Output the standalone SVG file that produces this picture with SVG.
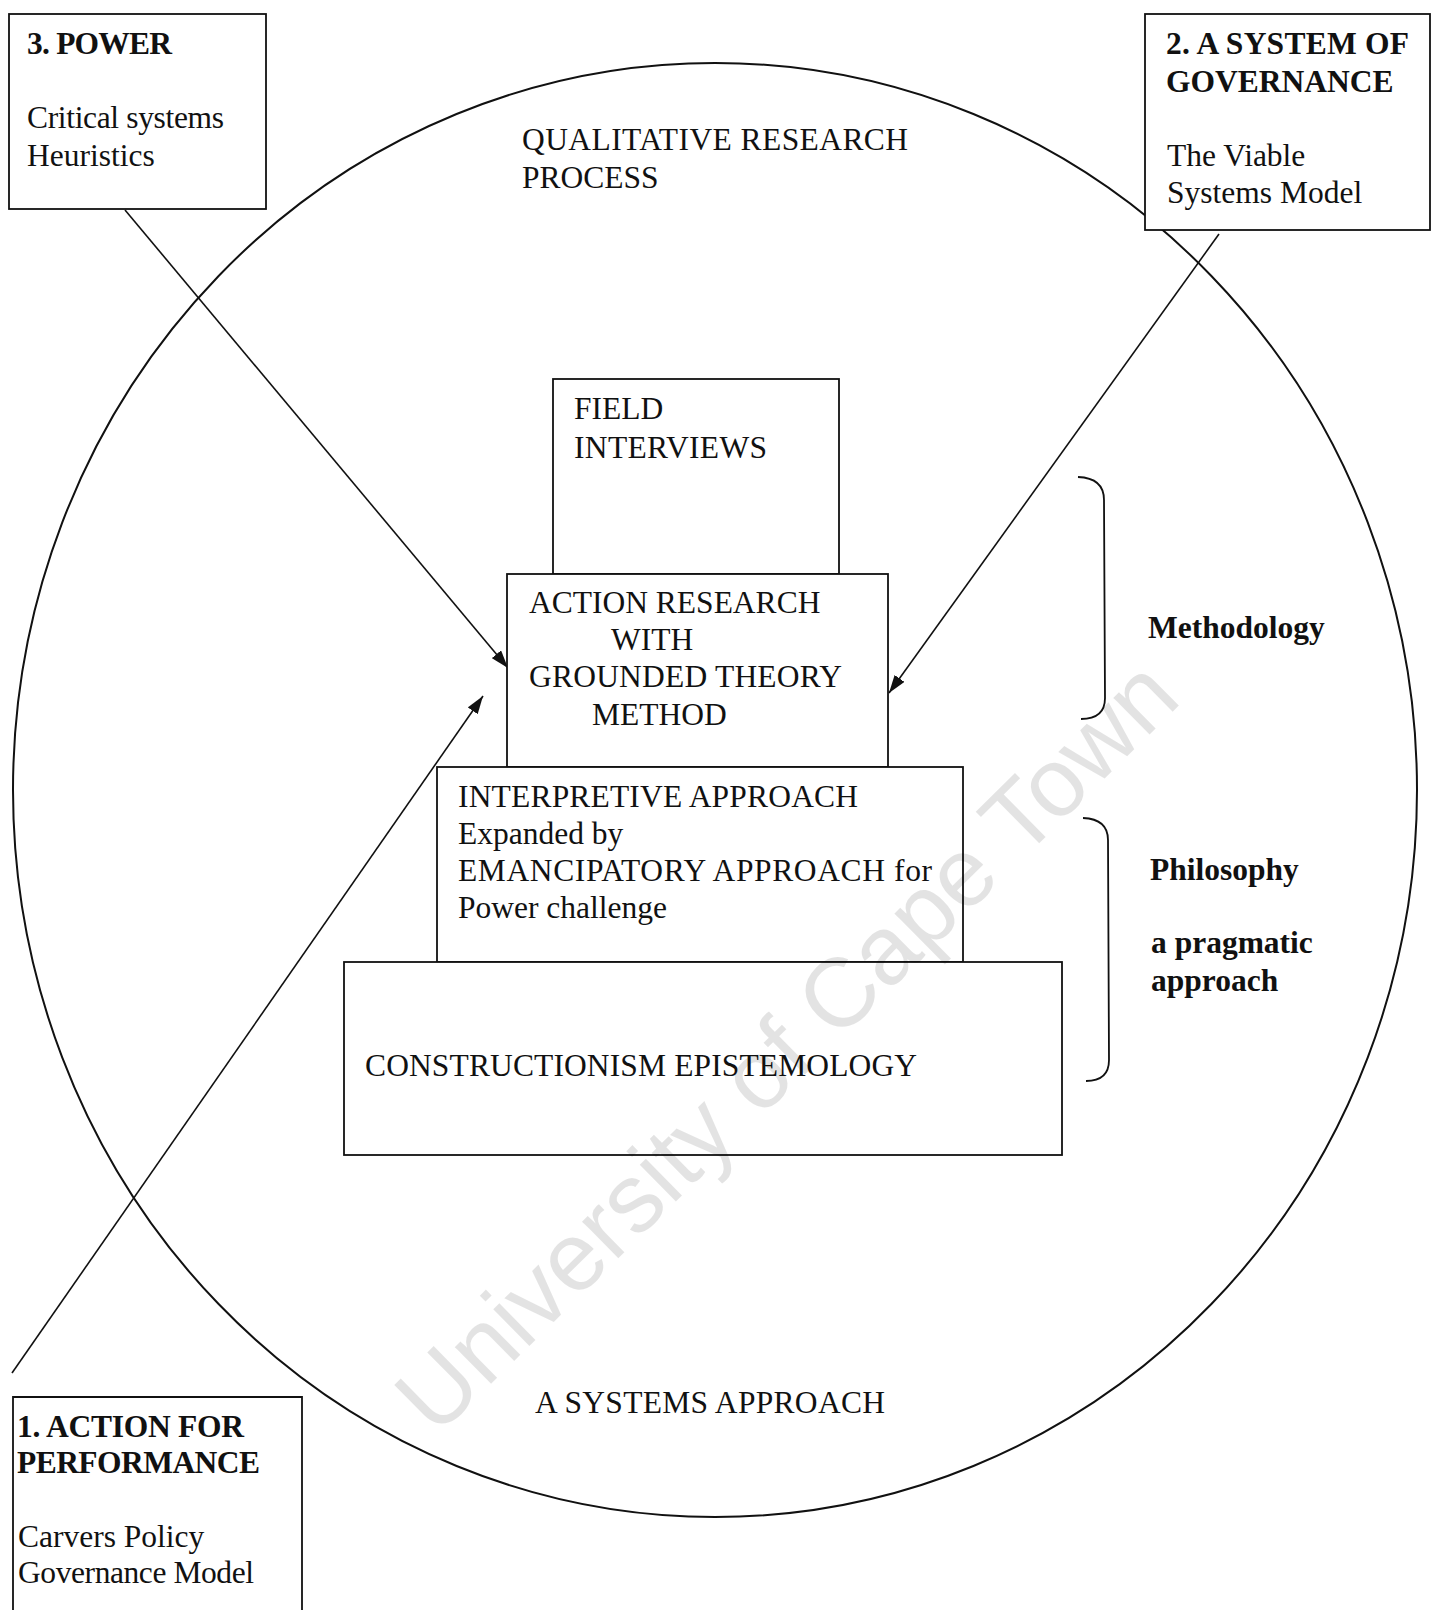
<svg xmlns="http://www.w3.org/2000/svg" width="1432" height="1610" viewBox="0 0 1432 1610">
  <style>
    .box { fill: #fff; stroke: #111; stroke-width: 1.8; }
    .t { font-family: "Liberation Serif", "Times New Roman", serif; font-size: 31.5px; fill: #111; }
    .b { font-weight: bold; }
    .conn { stroke: #111; stroke-width: 1.6; fill: none; }
    .brace { stroke: #111; stroke-width: 1.8; fill: none; }
    .mark { font-family: "Liberation Sans", Arial, sans-serif; font-size: 97.5px; fill: #000; fill-opacity: 0.11; }
  </style>
  <defs>
    <marker id="arrow" markerUnits="userSpaceOnUse" markerWidth="20" markerHeight="12" refX="18" refY="6" orient="auto">
      <path d="M0,0 L18,6 L0,12 z" fill="#111"/>
    </marker>
  </defs>

  <rect width="1432" height="1610" fill="#fff"/>

  <!-- outer process boundary -->
  <g id="process">
    <ellipse cx="715" cy="790" rx="702" ry="727" fill="none" stroke="#111" stroke-width="2"/>
    <text class="t" x="522" y="150" textLength="386">QUALITATIVE RESEARCH</text>
    <text class="t" x="522" y="188">PROCESS</text>
    <text class="t" x="535" y="1413" textLength="350">A SYSTEMS APPROACH</text>
  </g>

  <!-- connectors -->
  <g id="connectors">
    <line class="conn" x1="125" y1="210" x2="508" y2="668" marker-end="url(#arrow)"/>
    <line class="conn" x1="1219" y1="234" x2="889" y2="693" marker-end="url(#arrow)"/>
    <line class="conn" x1="12" y1="1373" x2="483" y2="696" marker-end="url(#arrow)"/>
  </g>

  <g id="power">
    <rect class="box" x="9" y="14" width="257" height="195"/>
    <text class="t b" x="27" y="54" textLength="145">3. POWER</text>
    <text class="t" x="27" y="128" textLength="197">Critical systems</text>
    <text class="t" x="27" y="166">Heuristics</text>
  </g>

  <g id="governance">
    <rect class="box" x="1145" y="14" width="285" height="216"/>
    <text class="t b" x="1166" y="54" textLength="243">2. A SYSTEM OF</text>
    <text class="t b" x="1166" y="92">GOVERNANCE</text>
    <text class="t" x="1167" y="166">The Viable</text>
    <text class="t" x="1167" y="203">Systems Model</text>
  </g>

  <g id="action-performance">
    <path class="box" d="M13,1620 L13,1397 L302,1397 L302,1620"/>
    <text class="t b" x="17" y="1437" textLength="227">1. ACTION FOR</text>
    <text class="t b" x="17" y="1473" textLength="243">PERFORMANCE</text>
    <text class="t" x="18" y="1547">Carvers Policy</text>
    <text class="t" x="18" y="1583" textLength="236">Governance Model</text>
  </g>

  <g id="field-interviews">
    <rect class="box" x="553" y="379" width="286" height="195"/>
    <text class="t" x="574" y="419">FIELD</text>
    <text class="t" x="574" y="458" textLength="193">INTERVIEWS</text>
  </g>

  <g id="action-research">
    <rect class="box" x="507" y="574" width="381" height="193"/>
    <text class="t" x="529" y="613">ACTION RESEARCH</text>
    <text class="t" x="611" y="650">WITH</text>
    <text class="t" x="529" y="687" textLength="313">GROUNDED THEORY</text>
    <text class="t" x="592" y="725">METHOD</text>
  </g>

  <g id="interpretive">
    <rect class="box" x="437" y="767" width="526" height="195"/>
    <text class="t" x="458" y="807" textLength="400">INTERPRETIVE APPROACH</text>
    <text class="t" x="458" y="844">Expanded by</text>
    <text class="t" x="458" y="881" textLength="474">EMANCIPATORY APPROACH for</text>
    <text class="t" x="458" y="918">Power challenge</text>
  </g>

  <g id="constructionism">
    <rect class="box" x="344" y="962" width="718" height="193"/>
    <text class="t" x="365" y="1076" textLength="552">CONSTRUCTIONISM EPISTEMOLOGY</text>
  </g>

  <g id="methodology">
    <path class="brace" d="M1078,477 Q1104,478 1104,500 L1105,698 Q1105,719 1081,719"/>
    <text class="t b" x="1148" y="638">Methodology</text>
  </g>

  <g id="philosophy">
    <path class="brace" d="M1083,818 Q1108,819 1108,840 L1109,1060 Q1109,1081 1086,1081"/>
    <text class="t b" x="1150" y="880">Philosophy</text>
    <text class="t b" x="1151" y="953">a pragmatic</text>
    <text class="t b" x="1151" y="991">approach</text>
  </g>

  <!-- institutional watermark -->
  <text class="mark" transform="translate(436,1438) rotate(-44.6)">University of Cape Town</text>
</svg>
